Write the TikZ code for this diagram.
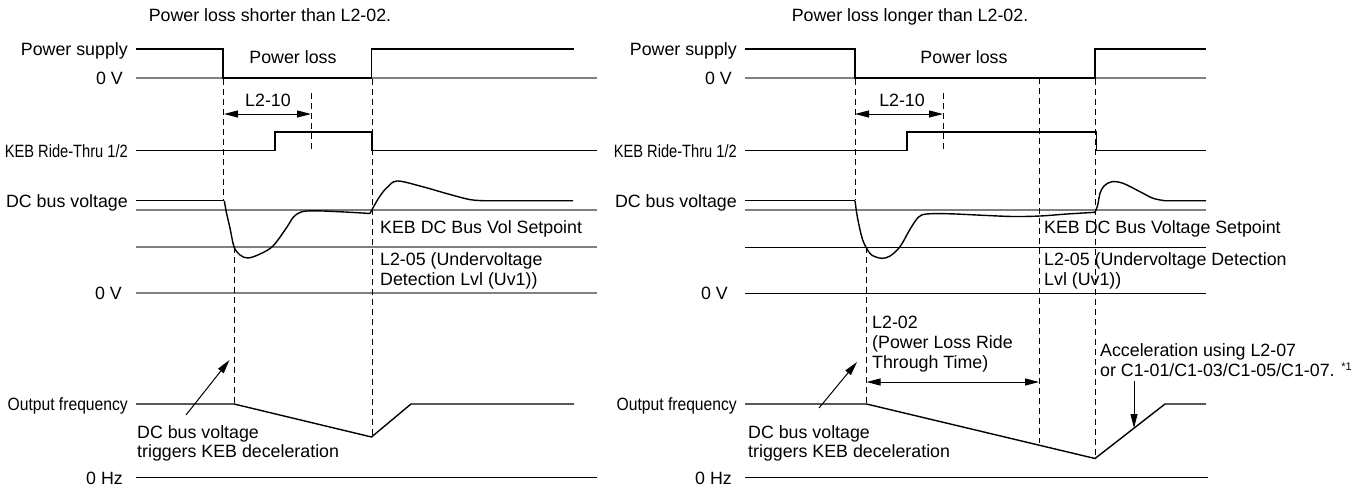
\documentclass[tikz,border=0pt]{standalone}
\usepackage{fontspec}
\setmainfont{Liberation Sans}
\usetikzlibrary{arrows.meta}
\definecolor{refgray}{RGB}{128,128,128}
\begin{document}
\begin{tikzpicture}[x=1pt,y=-1pt,
  font=\fontsize{17.8}{20}\selectfont,
  sig/.style={line width=1.4pt,line join=miter},
  refline/.style={line width=1.4pt,draw=refgray},
  setline/.style={line width=1.5pt,draw=refgray},
  darkref/.style={line width=0.9pt,draw=black},
  guide/.style={line width=0.9pt,dash pattern=on 6pt off 4pt},
  dimarrow/.style={line width=1pt,{Triangle[length=14pt,width=7pt]}-{Triangle[length=14pt,width=7pt]}},
  ptrarrow/.style={line width=1pt,-{Triangle[length=14pt,width=7pt]}},
  lbl/.style={anchor=base east,inner sep=0pt},
  txt/.style={anchor=base west,inner sep=0pt},
  ttl/.style={anchor=base,inner sep=0pt}]
\useasboundingbox (0,0) rectangle (1364,488);

% ================= LEFT PANEL =================
\node[ttl] (titleL) at (270,21.5) {Power loss shorter than L2-02.};
\node[lbl] (psL) at (128,55.5) {Power supply};
\node[lbl] (zvL) at (123,84.5) {0 V};
\node[ttl] (plL) at (293,63.5) {Power loss};
\node[ttl] (l210L) at (268,106.5) {L2-10};
\node[lbl] (kebL) at (128,157) {\scalebox{0.823}[1]{KEB Ride-Thru 1/2}};
\node[lbl] (dcL) at (128,207.5) {DC bus voltage};
\node[txt] (spL) at (380,233.5) {KEB DC Bus Vol Setpoint};
\node[txt] (uvaL) at (380,265.5) {L2-05 (Undervoltage};
\node[txt] (uvbL) at (380,285.5) {Detection Lvl (Uv1))};
\node[lbl] (zv2L) at (122,299.5) {0 V};
\node[lbl] (ofL) at (128,410.5) {\scalebox{0.88}[1]{Output frequency}};
\node[txt] (trgaL) at (137,438) {DC bus voltage};
\node[txt] (trgbL) at (137,457.5) {triggers KEB deceleration};
\node[lbl] (hzL) at (123,484) {0 Hz};

% reference lines
\draw[refline] (136,78) -- (597,78);
\draw[refline] (136,210) -- (597,210);
\draw[refline] (136,247) -- (597,247);
\draw[refline] (136,293) -- (597,293);
\draw[sig] (136,477.5) -- (597,477.5);

% guides
\draw[guide] (223,79) -- (223,200);
\draw[guide] (234,247) -- (234,404);
\draw[guide] (311,93) -- (311,150);
\draw[guide] (372,79) -- (372,437);

% waveforms
\draw[sig] (136,49) -- (223,49) -- (223,78) -- (371.5,78) -- (371.5,49) -- (574,49);
\draw[sig] (136,150.5) -- (275,150.5) -- (275,132) -- (372,132) -- (372,150.5) -- (597,150.5);
\draw[sig] (136,200.7) -- (224.3,200.7);
\draw[sig] plot[smooth,tension=0.55] coordinates {(224.3,200.7) (226.5,213) (230,228) (234,246.7) (240,255) (248,258) (260,254) (273,246) (287,227) (293,217.5) (301,212) (315,210.8) (345,212) (370,213.5)};
\draw[sig] plot[smooth,tension=0.55] coordinates {(370,213.5) (374,206) (380,196) (387,187.5) (397,181) (420,186) (450,194.5) (470,199.6) (484,200.7)} -- (573,200.7);
\draw[sig] (136,404) -- (234,404) -- (371.5,437) -- (411,404) -- (574,404);

% arrows
\coordinate (dL1) at (224,114);
\coordinate (dL2) at (311,114);
\draw[dimarrow] (dL1) -- (dL2);
\coordinate (pL0) at (186,415);
\coordinate (pL1) at (229.5,360);
\draw[ptrarrow] (pL0) -- (pL1);

% ================= RIGHT PANEL =================
\node[ttl] (titleR) at (910,21.5) {Power loss longer than L2-02.};
\node[lbl] (psR) at (737,55.5) {Power supply};
\node[lbl] (zvR) at (732,84.5) {0 V};
\node[ttl] (plR) at (964,63.5) {Power loss};
\node[ttl] (l210R) at (902,106.5) {L2-10};
\node[lbl] (kebR) at (737,157) {\scalebox{0.823}[1]{KEB Ride-Thru 1/2}};
\node[lbl] (dcR) at (737,207.5) {DC bus voltage};
\node[txt] (spR) at (1044,233.5) {KEB DC Bus Voltage Setpoint};
\node[txt] (uvaR) at (1044,265.5) {L2-05 (Undervoltage Detection};
\node[txt] (uvbR) at (1044,285) {Lvl (Uv1))};
\node[lbl] (zv2R) at (728,299.5) {0 V};
\node[txt] (l202aR) at (872,328.5) {L2-02};
\node[txt] (l202bR) at (872,348.5) {(Power Loss Ride};
\node[txt] (l202cR) at (872,368.5) {Through Time)};
\node[txt] (accaR) at (1100,356) {Acceleration using L2-07};
\node[txt] (accbR) at (1100,376) {or C1-01/C1-03/C1-05/C1-07. {\fontsize{11}{11}\selectfont\raisebox{6pt}{*1}}};
\node[lbl] (ofR) at (737,410.5) {\scalebox{0.88}[1]{Output frequency}};
\node[txt] (trgaR) at (748,438) {DC bus voltage};
\node[txt] (trgbR) at (748,457.5) {triggers KEB deceleration};
\node[lbl] (hzR) at (732,484) {0 Hz};

% reference lines
\draw[refline] (745,78) -- (1206,78);
\draw[setline] (745,210) -- (1206,210);
\draw[darkref] (745,247) -- (1206,247);
\draw[darkref] (745,293) -- (1206,293);
\draw[sig] (745,477.5) -- (1208,477.5);

% guides
\draw[guide] (855,79) -- (855,200);
\draw[guide] (866.5,247) -- (866.5,404);
\draw[guide] (943,93) -- (943,150);
\draw[guide] (1039,78) -- (1039,443);
\draw[guide] (1095,79) -- (1095,458.5);

% waveforms
\draw[sig] (745,49) -- (855,49) -- (855,78) -- (1095,78) -- (1095,49) -- (1206,49);
\draw[sig] (745,150.5) -- (907,150.5) -- (907,132) -- (1096.5,132) -- (1096.5,150.5) -- (1206,150.5);
\draw[sig] (745,200.7) -- (855,200.7);
\draw[sig] plot[smooth,tension=0.55] coordinates {(855,200.7) (857.3,216.7) (861.7,236.7) (865.7,246.7) (871.7,255) (881.7,258.3) (890,256) (900,246.7) (910,229.3) (918.3,217.3) (926.7,214) (950,213.8) (983,215.3) (1013,216.5) (1040,216) (1067,214) (1095,212.3)};
\draw[sig] plot[smooth,tension=0.55] coordinates {(1095,212.3) (1097.7,205) (1100,193.3) (1104,186) (1111.7,181.7) (1123,183.3) (1140,191.7) (1153,198.3) (1165,200.7)} -- (1206,200.7);
\draw[sig] (745,404) -- (866.5,404) -- (1095,458.5) -- (1165,404) -- (1206,404);

% arrows
\coordinate (dR1) at (855,114);
\coordinate (dR2) at (943,114);
\draw[dimarrow] (dR1) -- (dR2);
\coordinate (dR3) at (866.5,382);
\coordinate (dR4) at (1039,382);
\draw[dimarrow] (dR3) -- (dR4);
\coordinate (pR0) at (819,408);
\coordinate (pR1) at (857,362);
\draw[ptrarrow] (pR0) -- (pR1);
\coordinate (aR0) at (1134,381);
\coordinate (aR1) at (1134,428);
\draw[ptrarrow] (aR0) -- (aR1);
\end{tikzpicture}
\end{document}
